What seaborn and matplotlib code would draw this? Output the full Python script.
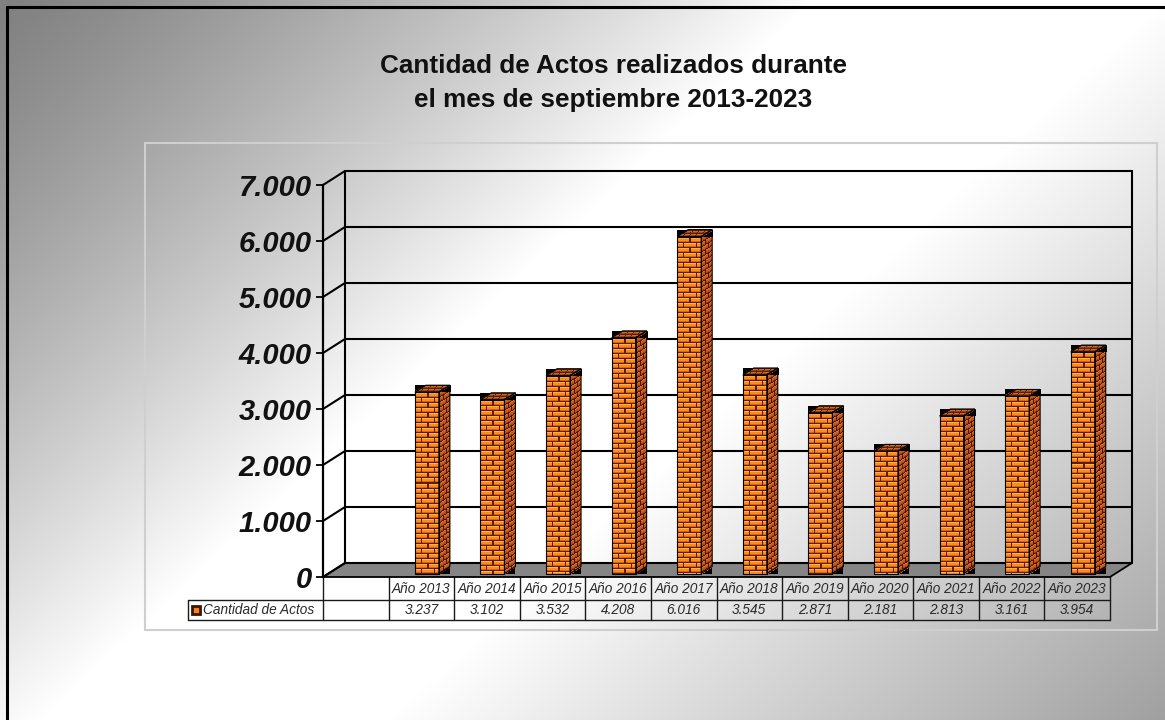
import matplotlib
matplotlib.use("Agg")
import matplotlib.pyplot as plt
from matplotlib.patches import Polygon, Rectangle
from matplotlib.transforms import Affine2D, blended_transform_factory
from matplotlib.colors import to_rgb
import numpy as np
import seaborn as sns

# datos
anios = ["Año 2013", "Año 2014", "Año 2015", "Año 2016", "Año 2017", "Año 2018",
         "Año 2019", "Año 2020", "Año 2021", "Año 2022", "Año 2023"]
actos = [3237, 3102, 3532, 4208, 6016, 3545, 2871, 2181, 2813, 3161, 3954]
yticks = [0, 1000, 2000, 3000, 4000, 5000, 6000, 7000]
serie = "Cantidad de Actos"
titulo = "Cantidad de Actos realizados durante\nel mes de septiembre 2013-2023"

W, H = 1165, 720
# geometria del area (pixeles de la imagen)
AX_L, AX_R, AX_B, AX_T = 323, 1110, 577, 185
PROF_X, PROF_Y = 22, 14      # profundidad del grafico 3D
BAR_W = 0.366
F0, F1 = 0.25, 0.75          # posicion de la barra en la profundidad


def miles(v):
    return f"{v:,}".replace(",", ".")


def ladrillos(h, w, bw, bh, c_lad, c_luz, c_som, c_junta):
    h = max(int(round(h)), 1)
    w = max(int(round(w)), 1)
    r = np.arange(h)[:, None]
    c = np.arange(w)[None, :]
    desp = ((r // bh) % 2) * (bw // 2)
    junta = (r % bh == 0) | ((c + desp) % bw == 0)
    img = np.empty((h, w, 3))
    img[:] = to_rgb(c_lad)
    img[np.broadcast_to(r % bh == 1, (h, w))] = to_rgb(c_luz)
    img[np.broadcast_to(r % bh == bh - 1, (h, w))] = to_rgb(c_som)
    img[junta] = to_rgb(c_junta)
    return img


sns.set_theme(style="white")
plt.rcParams["font.family"] = ["Liberation Sans", "DejaVu Sans"]

fig = plt.figure(figsize=(W / 100, H / 100), dpi=100)

# fondo con degradado
bg = fig.add_axes([0, 0, 1, 1])
xx, yy = np.meshgrid(np.arange(W), np.arange(H))
t = 0.6 * xx / W + 0.4 * yy / H
g = np.where(t < 0.42, 128 + 127 * (np.clip(t, 0, 0.42) / 0.42) ** 1.2,
             np.where(t < 0.6, 255, 255 - 95 * (t - 0.6) / 0.4)) / 255
bg.imshow(np.dstack([g, g, g]), extent=(0, W, H, 0), aspect="auto", zorder=0)
bg.plot([7, 7], [H, 7], color="black", lw=2.2)
bg.plot([7, W], [7, 7], color="black", lw=2.2)
bg.add_patch(Rectangle((145, 143), 1012, 487, fill=False, ec="#cfcfcf", lw=1.5))
bg.set_xlim(0, W)
bg.set_ylim(H, 0)
bg.axis("off")

fig.text(613 / W, 1 - 83 / H, titulo, ha="center", va="center", fontsize=18.8,
         fontweight="bold", linespacing=1.5, color="#111111")

# area del grafico
ax = fig.add_axes([AX_L / W, 1 - AX_B / H, (AX_R - AX_L) / W, (AX_B - AX_T) / H])
ax.patch.set_visible(False)
sns.barplot(x=anios, y=actos, ax=ax, width=BAR_W, color="#FF7F1E",
            edgecolor="black", linewidth=0.8)

sx = 12 / (AX_R - AX_L)
sy = 7000 / (AX_B - AX_T)
DX, DY = PROF_X * sx, PROF_Y * sy
x_izq, x_der = -1.5, 10.5

# suelo
ax.add_patch(Polygon([(x_izq, 0), (x_der, 0), (x_der + DX, DY), (x_izq + DX, DY)],
                     closed=True, fc="#858585", ec="black", lw=1.3, zorder=2, clip_on=False))
# paredes y lineas de division
for v in yticks:
    ax.plot([x_izq, x_izq + DX], [v, v + DY], color="black", lw=1.5, zorder=3, clip_on=False)
    ax.plot([x_izq + DX, x_der + DX], [v + DY, v + DY], color="black", lw=1.5, zorder=3,
            clip_on=False)
ax.plot([x_izq + DX] * 2, [DY, 7000 + DY], color="black", lw=1.5, zorder=3, clip_on=False)
ax.plot([x_der + DX] * 2, [DY, 7000 + DY], color="black", lw=1.5, zorder=3, clip_on=False)

# barras en 3D con ladrillos
dfx, dfy = F0 * DX, F0 * DY
ddx, ddy = (F1 - F0) * DX, (F1 - F0) * DY
for p in ax.patches[:len(actos)]:
    x0 = p.get_x() + dfx
    w = p.get_width()
    h = p.get_height()
    y0 = dfy
    p.set_x(x0)
    p.set_y(y0)
    p.set_facecolor("none")
    p.set_zorder(7)
    p.set_clip_on(False)
    frente = ladrillos(h / sy, w / sx, 12, 5, "#FF8A1C", "#FFB24F", "#E0600E", "#5A1E00")
    ax.imshow(frente, extent=(x0, x0 + w, y0, y0 + h), aspect="auto",
              interpolation="nearest", zorder=5, clip_on=False)
    xr = x0 + w
    lado = ladrillos(h / sy, ddx / sx, 7, 5, "#C8581A", "#DD7330", "#A0420C", "#4A1800")
    tr = Affine2D(np.array([[ddx, 0, xr], [ddy, h, y0], [0, 0, 1]])) + ax.transData
    ax.imshow(lado, extent=(0, 1, 0, 1), transform=tr, aspect="auto",
              interpolation="nearest", zorder=5, clip_on=False)
    yt = y0 + h
    tapa = ladrillos(ddy / sy, w / sx, 6, 3, "#B5561E", "#C86A2C", "#9A4412", "#5A2000")
    tr = Affine2D(np.array([[w, ddx, x0], [0, ddy, yt], [0, 0, 1]])) + ax.transData
    ax.imshow(tapa, extent=(0, 1, 0, 1), transform=tr, aspect="auto",
              interpolation="nearest", zorder=5, clip_on=False)
    ax.add_patch(Polygon([(xr, y0), (xr, yt), (xr + ddx, yt + ddy), (xr + ddx, y0 + ddy)],
                         closed=True, fill=False, ec="black", lw=0.8, zorder=7, clip_on=False))
    ax.add_patch(Polygon([(x0, yt), (xr, yt), (xr + ddx, yt + ddy), (x0 + ddx, yt + ddy)],
                         closed=True, fill=False, ec="black", lw=0.8, zorder=7, clip_on=False))

ax.set_xlim(x_izq, x_der)
ax.set_ylim(0, 7000)
ax.set_xticks([])
ax.set_xlabel("")
ax.set_ylabel("")
for s in ["top", "right", "bottom"]:
    ax.spines[s].set_visible(False)
ax.spines["left"].set_color("black")
ax.spines["left"].set_linewidth(1.6)
ax.set_yticks(yticks)
ax.set_yticklabels([miles(v) for v in yticks], fontsize=21, fontweight="bold",
                   fontstyle="italic", color="#111111")
ax.tick_params(axis="y", left=True, length=5, width=1.3, color="black", pad=3)

# tabla de datos
tb = blended_transform_factory(ax.transData, bg.transData)
for k in range(13):
    bg.plot([x_izq + k] * 2, [AX_B, 620], color="#1a1a1a", lw=1, transform=tb, clip_on=False)
bg.plot([188, AX_R], [600, 600], color="#1a1a1a", lw=1)
bg.plot([188, AX_R], [620, 620], color="#1a1a1a", lw=1)
bg.plot([188, 188], [600, 620], color="#1a1a1a", lw=1)
for i, (a, v) in enumerate(zip(anios, actos)):
    bg.text(i, 589, a, transform=tb, ha="center", va="center", fontsize=9.8,
            fontstyle="italic", color="#2a2a2a")
    bg.text(i, 610.5, miles(v), transform=tb, ha="center", va="center", fontsize=9.8,
            fontstyle="italic", color="#2a2a2a")
bg.add_patch(Rectangle((192, 606), 8, 8, fc="#FF7F1E", ec="#3a1500", lw=2))
bg.text(203, 610.5, serie, ha="left", va="center", fontsize=9.8, fontstyle="italic",
        color="#2a2a2a")

fig.savefig("out.png", dpi=100)
